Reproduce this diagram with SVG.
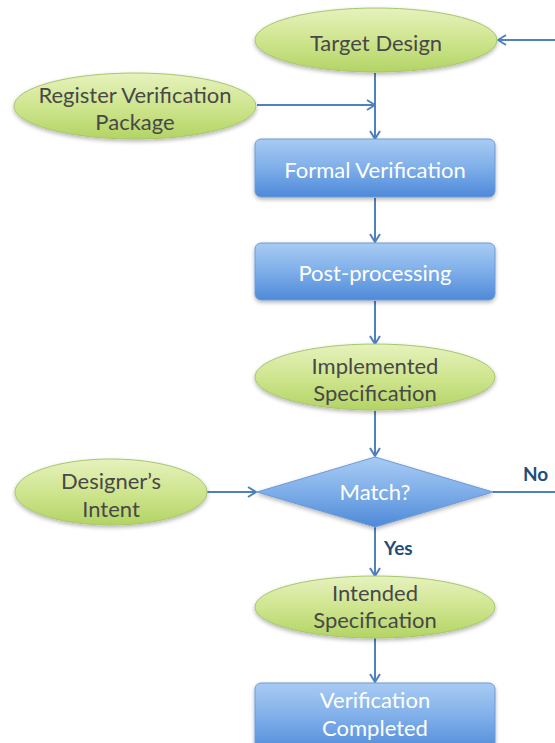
<svg xmlns="http://www.w3.org/2000/svg" width="555" height="743" viewBox="0 0 555 743">
  <defs>
    <linearGradient id="gGreen" x1="0" y1="0" x2="0" y2="1">
      <stop offset="0" stop-color="#e6f2bd"/>
      <stop offset="0.5" stop-color="#cfe58f"/>
      <stop offset="1" stop-color="#b3d465"/>
    </linearGradient>
    <linearGradient id="gBlue" x1="0" y1="0" x2="0" y2="1">
      <stop offset="0" stop-color="#a9cbf3"/>
      <stop offset="0.5" stop-color="#7eaee9"/>
      <stop offset="1" stop-color="#4e89d8"/>
    </linearGradient>
    <filter id="shadow" x="-10%" y="-10%" width="120%" height="130%">
      <feGaussianBlur in="SourceAlpha" stdDeviation="2"/>
      <feOffset dx="0" dy="2" result="b"/>
      <feComponentTransfer><feFuncA type="linear" slope="0.3"/></feComponentTransfer>
      <feMerge><feMergeNode/><feMergeNode in="SourceGraphic"/></feMerge>
    </filter>
    <marker id="arrow" viewBox="0 0 12 12" refX="11" refY="6" markerWidth="12" markerHeight="12" markerUnits="userSpaceOnUse" orient="auto">
      <path d="M3,1 L11,6 L3,11" fill="none" stroke="#4f81bd" stroke-width="2" stroke-linejoin="round"/>
    </marker>
  </defs>
  <style>
    .ell { fill: url(#gGreen); stroke: #a7c66b; stroke-width: 1; filter: url(#shadow); }
    .box { fill: url(#gBlue); stroke: #6a9bd6; stroke-width: 1; filter: url(#shadow); }
    .dia { fill: url(#gBlue); stroke: #6a9bd6; stroke-width: 1; filter: url(#shadow); }
    .tg { font-family: Lato, "Open Sans", "Liberation Sans", sans-serif; font-size: 22px; fill: #484848; text-anchor: middle; }
    .tw { font-family: Lato, "Open Sans", "Liberation Sans", sans-serif; font-size: 22px; fill: #ffffff; text-anchor: middle; }
    .lbl { font-family: Lato, "Open Sans", "Liberation Sans", sans-serif; font-size: 19px; font-weight: bold; fill: #1f4e79; }
    .con { fill: none; stroke: #4f81bd; stroke-width: 2; }
  </style>

  <!-- connectors -->
  <g id="connectors">
    <path class="con" d="M555,40 L498,40" marker-end="url(#arrow)"/>
    <path class="con" d="M257,105 L375,105" marker-end="url(#arrow)"/>
    <path class="con" d="M375,73 L375,139" marker-end="url(#arrow)"/>
    <path class="con" d="M375,198 L375,242" marker-end="url(#arrow)"/>
    <path class="con" d="M375,301 L375,344" marker-end="url(#arrow)"/>
    <path class="con" d="M375,411 L375,456" marker-end="url(#arrow)"/>
    <path class="con" d="M207,492 L256,492" marker-end="url(#arrow)"/>
    <path class="con" d="M493,492 L555,492"/>
    <path class="con" d="M375,527 L375,576" marker-end="url(#arrow)"/>
    <path class="con" d="M375,638 L375,682" marker-end="url(#arrow)"/>
    <text class="lbl" x="523" y="481">No</text>
    <text class="lbl" x="384" y="555">Yes</text>
  </g>

  <g id="target-design">
    <ellipse class="ell" cx="376" cy="40" rx="121" ry="32"/>
    <text class="tg" x="376" y="51">Target Design</text>
  </g>

  <g id="register-package">
    <ellipse class="ell" cx="135" cy="106" rx="121" ry="33"/>
    <text class="tg" x="135" y="103">Register Verification</text>
    <text class="tg" x="135" y="130">Package</text>
  </g>

  <g id="formal-verification">
    <rect class="box" x="255" y="139" width="240" height="58" rx="6"/>
    <text class="tw" x="375" y="178">Formal Verification</text>
  </g>

  <g id="post-processing">
    <rect class="box" x="255" y="243" width="240" height="57" rx="6"/>
    <text class="tw" x="375" y="281">Post-processing</text>
  </g>

  <g id="implemented-spec">
    <ellipse class="ell" cx="375" cy="377" rx="120" ry="33"/>
    <text class="tg" x="375" y="374">Implemented</text>
    <text class="tg" x="375" y="401">Specification</text>
  </g>

  <g id="match">
    <polygon class="dia" points="375,457 493,492 375,527 257,492"/>
    <text class="tw" x="375" y="500">Match?</text>
  </g>

  <g id="designers-intent">
    <ellipse class="ell" cx="111" cy="492" rx="96" ry="33"/>
    <text class="tg" x="111" y="489">Designer’s</text>
    <text class="tg" x="111" y="517">Intent</text>
  </g>

  <g id="intended-spec">
    <ellipse class="ell" cx="375" cy="607" rx="120" ry="31"/>
    <text class="tg" x="375" y="601">Intended</text>
    <text class="tg" x="375" y="628">Specification</text>
  </g>

  <g id="verification-completed">
    <rect class="box" x="255" y="683" width="240" height="70" rx="6"/>
    <text class="tw" x="375" y="708">Verification</text>
    <text class="tw" x="375" y="736">Completed</text>
  </g>
</svg>
